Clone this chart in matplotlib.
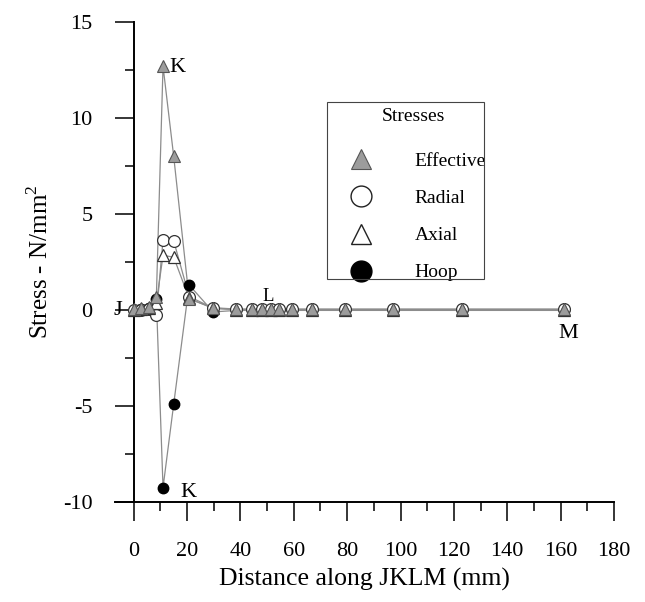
import matplotlib
matplotlib.use('Agg')
import matplotlib.pyplot as plt
from matplotlib.lines import Line2D
from matplotlib.patches import Rectangle
from matplotlib.ticker import MultipleLocator

plt.rcParams['font.family'] = ['Liberation Serif', 'DejaVu Serif']
plt.rcParams['mathtext.fontset'] = 'custom'
plt.rcParams['mathtext.rm'] = 'Liberation Serif'
plt.rcParams['axes.unicode_minus'] = False

# ─── data ───
dist = [0, 2.9, 5.7, 8.5, 11, 15, 20.8, 29.8, 38.5, 44.5, 48.2, 51.3, 54.6,
        59.5, 67, 79.3, 97.3, 123, 161.3]
effective = [0.04, 0.09, 0.17, 0.68, 12.7, 8.0, 0.57, 0.12, 0.05, 0.05, 0.05, 0.05,
             0.05, 0.05, 0.05, 0.05, 0.05, 0.05, 0.05]
radial = [0.0, 0.02, 0.05, -0.26, 3.65, 3.6, 0.7, 0.1, 0.03, 0.03, 0.03, 0.03,
          0.03, 0.03, 0.03, 0.03, 0.03, 0.03, 0.03]
axial = [0.0, 0.03, 0.08, 0.36, 2.85, 2.75, 0.6, 0.08, 0.02, 0.02, 0.02, 0.02,
         0.02, 0.02, 0.02, 0.02, 0.02, 0.02, 0.02]
hoop = [0.0, 0.03, 0.1, 0.55, -9.25, -4.9, 1.3, -0.1, -0.02, -0.02, -0.02, -0.02,
        -0.02, -0.02, -0.02, -0.02, -0.02, -0.02, -0.02]

point_labels = ['J', 'K', 'K', 'L', 'M']
label_xy = [(-6.1, 0.0), (16.3, 12.65), (20.4, -9.5), (50.3, 0.7), (162.8, -1.2)]
label_size = [16, 16, 16, 13.5, 16]

LINE = '#8c8c8c'
EFF = '#9c9c9c'

fig = plt.figure(figsize=(6.45, 6.02), dpi=100)
ax = fig.add_axes([0.1783, 0.1661, 0.7736, 0.7973])

# lines first, then markers on top
for ys in (hoop, radial, axial, effective):
    ax.plot(dist, ys, '-', color=LINE, lw=0.9, zorder=1)

ax.plot(dist, hoop, linestyle='None', marker='o', ms=7.5, mfc='black', mec='black', zorder=2)
ax.plot(dist, radial, linestyle='None', marker='o', ms=8.5, mfc='white', mec='#333333', mew=0.9, zorder=3)
ax.plot(dist, axial, linestyle='None', marker='^', ms=8, mfc='white', mec='#333333', mew=0.9, zorder=4)
ax.plot(dist, effective, linestyle='None', marker='^', ms=8, mfc=EFF, mec='#555555', mew=0.8, zorder=5)

for txt, (x, y), fs in zip(point_labels, label_xy, label_size):
    ax.text(x, y, txt, fontsize=fs, ha='center', va='center', zorder=6)

ax.set_xlim(-7, 180)
ax.set_ylim(-10, 15)
ax.spines['left'].set_position(('data', 0))
ax.spines['right'].set_visible(False)
ax.spines['top'].set_visible(False)
for s in ('left', 'bottom'):
    ax.spines[s].set_linewidth(1.4)

ax.xaxis.set_major_locator(MultipleLocator(20))
ax.xaxis.set_minor_locator(MultipleLocator(10))
ax.yaxis.set_major_locator(MultipleLocator(5))
ax.yaxis.set_minor_locator(MultipleLocator(2.5))
ax.tick_params(which='major', direction='out', length=13.5, width=1.1)
ax.tick_params(which='minor', direction='out', length=6.8, width=1.1)
ax.tick_params(axis='x', which='major', labelsize=16, pad=15.5)
ax.tick_params(axis='y', which='major', labelsize=16, pad=16)

ax.set_xlabel('Distance along JKLM (mm)', fontsize=18.5, labelpad=4.5)
ax.set_ylabel('Stress - N/mm$^2$', fontsize=18, labelpad=7)

handles = [
    Line2D([], [], linestyle='None', marker='^', ms=15, mfc=EFF, mec='#555555', mew=0.8),
    Line2D([], [], linestyle='None', marker='o', ms=15, mfc='white', mec='#222222', mew=1.0),
    Line2D([], [], linestyle='None', marker='^', ms=15, mfc='white', mec='#222222', mew=1.0),
    Line2D([], [], linestyle='None', marker='o', ms=15, mfc='black', mec='black'),
]
leg = ax.legend(handles, ['Effective', 'Radial', 'Axial', 'Hoop'], title='Stresses',
                loc='upper left', bbox_to_anchor=(336 / 645, 1 - 102 / 602),
                bbox_transform=fig.transFigure, fontsize=14, title_fontsize=14,
                frameon=False, borderpad=0.3, labelspacing=1.0, handlelength=2.0,
                handletextpad=1.73, borderaxespad=0)
leg._legend_box.sep = 20

# legend box drawn separately so it hugs the text like the original
fig.patches.append(Rectangle((327 / 645, 1 - 279 / 602), 157 / 645, 177 / 602,
                             transform=fig.transFigure, fill=False,
                             edgecolor='#444444', lw=0.8, zorder=0))

fig.savefig('out.png', dpi=100)
